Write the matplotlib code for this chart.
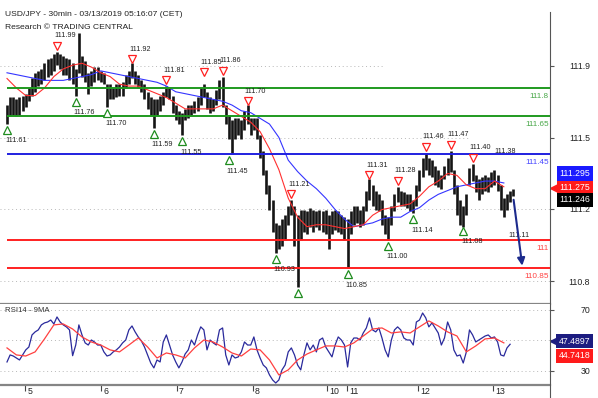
import numpy as np
import matplotlib.pyplot as plt
import matplotlib.transforms as mtransforms
from matplotlib.lines import Line2D

plt.rcParams['font.family'] = ['Liberation Sans', 'DejaVu Sans']

# USD/JPY, one sample per hour
bar_high = [
    111.71, 111.75, 111.75, 111.74, 111.75, 111.76, 111.77, 111.80, 111.85, 111.88,
    111.89, 111.90, 111.93, 111.95, 111.96, 111.98, 111.99, 111.98, 111.97, 111.96,
    111.95, 111.93, 111.90, 112.09, 111.97, 111.94, 111.88, 111.89, 111.91, 111.91,
    111.89, 111.88, 111.82, 111.82, 111.80, 111.82, 111.82, 111.83, 111.87, 111.89,
    111.93, 111.89, 111.87, 111.84, 111.82, 111.78, 111.75, 111.74, 111.74, 111.76,
    111.78, 111.81, 111.80, 111.76, 111.71, 111.68, 111.67, 111.69, 111.71, 111.71,
    111.73, 111.75, 111.80, 111.82, 111.78, 111.75, 111.74, 111.79, 111.84, 111.86,
    111.71, 111.66, 111.63, 111.64, 111.64, 111.63, 111.68, 111.71, 111.64, 111.64,
    111.64, 111.55, 111.47, 111.37, 111.29, 111.21, 111.09, 111.08, 111.11, 111.13,
    111.18, 111.21, 111.18, 111.13, 111.16, 111.16, 111.15, 111.17, 111.16, 111.15,
    111.16, 111.15, 111.16, 111.13, 111.15, 111.16, 111.15, 111.13, 111.12, 111.11,
    111.15, 111.18, 111.18, 111.16, 111.18, 111.26, 111.32, 111.29, 111.26, 111.24,
    111.21, 111.13, 111.12, 111.18, 111.24, 111.28, 111.26, 111.25, 111.24, 111.24,
    111.21, 111.29, 111.37, 111.43, 111.46, 111.43, 111.42, 111.39, 111.37, 111.34,
    111.39, 111.43, 111.47, 111.37, 111.29, 111.21, 111.18, 111.24, 111.38, 111.40,
    111.34, 111.32, 111.33, 111.34, 111.33, 111.36, 111.37, 111.34, 111.29, 111.22,
    111.24, 111.26, 111.27]
bar_low = [
    111.61, 111.65, 111.66, 111.65, 111.66, 111.68, 111.70, 111.73, 111.76, 111.78,
    111.81, 111.82, 111.84, 111.86, 111.87, 111.89, 111.92, 111.90, 111.87, 111.87,
    111.84, 111.82, 111.76, 111.88, 111.86, 111.83, 111.77, 111.81, 111.83, 111.84,
    111.83, 111.82, 111.70, 111.74, 111.74, 111.75, 111.76, 111.76, 111.80, 111.82,
    111.85, 111.82, 111.80, 111.78, 111.74, 111.69, 111.66, 111.59, 111.66, 111.68,
    111.71, 111.75, 111.74, 111.67, 111.63, 111.61, 111.55, 111.63, 111.64, 111.66,
    111.67, 111.68, 111.71, 111.75, 111.69, 111.67, 111.68, 111.71, 111.74, 111.70,
    111.61, 111.53, 111.45, 111.53, 111.55, 111.53, 111.58, 111.61, 111.55, 111.58,
    111.53, 111.43, 111.34, 111.24, 111.16, 111.04, 110.93, 110.95, 110.97, 111.00,
    111.08, 111.13, 110.97, 110.75, 111.00, 111.04, 111.03, 111.07, 111.04, 111.07,
    111.05, 111.04, 111.03, 110.95, 111.03, 111.05, 111.04, 111.03, 111.00, 110.85,
    111.03, 111.08, 111.09, 111.07, 111.08, 111.15, 111.21, 111.18, 111.16, 111.15,
    111.08, 111.03, 111.00, 111.08, 111.15, 111.20, 111.18, 111.18, 111.17, 111.15,
    111.14, 111.18, 111.26, 111.33, 111.37, 111.34, 111.33, 111.29, 111.28, 111.27,
    111.32, 111.34, 111.36, 111.24, 111.13, 111.08, 111.07, 111.13, 111.29, 111.31,
    111.25, 111.21, 111.24, 111.26, 111.25, 111.28, 111.29, 111.26, 111.16, 111.12,
    111.16, 111.20, 111.23]

# moving averages, one value every 3 hours
ma_fast = [
    111.85, 111.80, 111.76, 111.76, 111.80, 111.86, 111.90, 111.92, 111.93, 111.91,
    111.88, 111.86, 111.82, 111.81, 111.81, 111.79, 111.77, 111.75, 111.72, 111.69,
    111.69, 111.69, 111.69, 111.71, 111.68, 111.65, 111.62, 111.57, 111.48, 111.37,
    111.22, 111.12, 111.07, 111.08, 111.08, 111.07, 111.06, 111.07, 111.08, 111.13,
    111.16, 111.17, 111.18, 111.19, 111.23, 111.28, 111.31, 111.35, 111.34, 111.29,
    111.27, 111.27, 111.31, 111.28]
ma_slow = [
    111.88, 111.87, 111.86, 111.85, 111.84, 111.84, 111.84, 111.85, 111.86, 111.87,
    111.89, 111.88, 111.87, 111.86, 111.85, 111.84, 111.83, 111.81, 111.78, 111.77,
    111.76, 111.75, 111.74, 111.73, 111.71, 111.68, 111.67, 111.64, 111.61, 111.54,
    111.42, 111.36, 111.31, 111.27, 111.22, 111.16, 111.11, 111.07, 111.08, 111.09,
    111.11, 111.12, 111.12, 111.15, 111.17, 111.21, 111.24, 111.26, 111.28, 111.29,
    111.30, 111.31, 111.31, 111.30]

# RSI14 (hourly) and its 9MA (every 3 hours)
rsi = [
    35.9, 40.5, 39.8, 38.5, 37.2, 40.5, 43.8, 45.7, 53.6, 55.6,
    56.9, 60.2, 61.5, 62.1, 63.4, 60.8, 65.4, 62.1, 60.2, 58.9,
    56.9, 40.0, 47.0, 60.2, 53.6, 48.4, 47.0, 50.3, 49.0, 47.0,
    47.0, 42.5, 39.8, 40.5, 42.5, 43.8, 45.7, 48.4, 50.3, 56.9,
    59.5, 55.6, 52.3, 49.7, 45.7, 40.5, 35.2, 32.0, 37.2, 35.9,
    49.0, 53.6, 47.0, 40.5, 35.9, 32.0, 35.9, 41.1, 43.8, 50.3,
    47.0, 53.6, 58.9, 56.9, 43.8, 50.3, 48.4, 47.0, 56.9, 58.2,
    40.5, 33.9, 40.5, 38.5, 39.2, 42.5, 49.0, 47.0, 47.0, 52.3,
    43.8, 38.5, 33.9, 32.0, 27.4, 24.1, 22.1, 24.1, 30.7, 33.9,
    42.5, 45.1, 40.5, 33.9, 30.7, 40.5, 48.4, 43.8, 47.0, 42.5,
    50.3, 51.6, 45.7, 42.5, 39.2, 47.0, 52.3, 50.3, 47.0, 32.6,
    48.4, 51.6, 51.6, 50.3, 54.9, 58.2, 64.8, 56.9, 55.6, 58.2,
    51.6, 43.8, 39.2, 50.3, 56.9, 58.9, 56.9, 51.6, 50.3, 50.3,
    47.0, 62.1, 63.4, 68.0, 64.8, 58.9, 61.5, 58.2, 54.9, 47.0,
    51.6, 62.1, 56.9, 43.8, 39.8, 40.5, 35.2, 42.5, 56.9, 53.6,
    49.0, 50.3, 51.6, 52.9, 53.6, 51.6, 52.3, 49.0, 40.5, 39.8,
    45.1, 47.5]
rsi_ma = [
    45.1, 40.5, 39.8, 42.5, 51.0, 60.2, 60.8, 57.5, 52.3, 49.0,
    47.0, 43.8, 42.5, 47.0, 51.6, 45.7, 38.5, 41.8, 40.5, 38.5,
    45.1, 50.3, 49.0, 45.7, 41.8, 39.8, 44.4, 43.8, 37.2, 27.4,
    30.7, 37.2, 41.1, 43.8, 46.4, 46.4, 45.7, 48.4, 52.9, 57.5,
    58.2, 54.9, 55.6, 54.9, 58.9, 62.8, 59.5, 55.6, 52.9, 42.5,
    46.4, 51.0, 51.6, 48.4]

# pivots
high_idx = [16, 40, 51, 63, 69, 77, 91, 116, 125, 134, 142, 149]
high_val = [111.99, 111.92, 111.81, 111.85, 111.86, 111.70, 111.21, 111.31, 111.28, 111.46, 111.47, 111.40]
low_idx = [0, 22, 32, 47, 56, 71, 86, 93, 109, 122, 130, 146]
low_val = [111.61, 111.76, 111.70, 111.59, 111.55, 111.45, 110.93, 110.75, 110.85, 111.00, 111.14, 111.08]
low_txt = ['111.61', '111.76', '111.70', '111.59', '111.55', '111.45', '110.93', '', '110.85', '111.00', '111.14', '111.08']
extra_high = (157, 111.38)
extra_low = (161, 111.11)

levels = [111.8, 111.65, 111.45, 111.0, 110.85]
level_txt = ['111.8', '111.65', '111.45', '111', '110.85']
level_col = ['#1f9a1f', '#1f9a1f', '#2020e0', '#ff2020', '#ff2020']
level_txtcol = ['#4aa84a', '#4aa84a', '#4848ff', '#ff4444', '#ff4444']

price_ticks = [111.916, 111.537, 111.163, 110.784]
price_tick_labels = ['111.9', '111.5', '111.2', '110.8']
rsi_ticks = [70, 50, 30]
rsi_tick_labels = ['70', '', '30']  # the 50 label sits under the RSI value box
day_ticks = [5.9, 30.2, 54.4, 78.7, 102.4, 108.8, 131.5, 155.5]
day_labels = ['5', '6', '7', '8', '10', '11', '12', '13']

last_close = 111.246
last_fast = 111.275
last_slow = 111.295
last_rsi = 47.4897
last_rsi_ma = 44.7418
target = 110.85

hours = np.arange(len(bar_high))
ma_hours = np.arange(len(ma_fast)) * 3
rsi_hours = np.arange(len(rsi))
rsi_ma_hours = np.arange(len(rsi_ma)) * 3

fig = plt.figure(figsize=(5.98, 3.98), dpi=100)
ax = fig.add_axes([0, 0.2362, 0.9197, 0.7337])
ax2 = fig.add_axes([0, 0.0327, 0.9197, 0.2035])
x_lo, x_hi = -2.24, 173.76

def off(a, dx, dy):
    return mtransforms.offset_copy(a.transData, fig=fig, x=dx, y=dy, units='dots')

# ---- price panel ----
ax.set_xlim(x_lo, x_hi)
ax.set_ylim(110.663, 112.2)
for t, xm in zip(price_ticks, [0.70, 0.855, 1, 1]):
    ax.axhline(t, xmax=xm, color='#b8b8b8', ls=(0, (1, 3)), lw=0.7, zorder=1)

ax.vlines(hours, bar_low, bar_high, color='#151515', lw=1.9, zorder=3)
ax.plot(ma_hours, ma_slow, color='#3535ff', lw=0.8, zorder=4)
ax.plot(ma_hours, ma_fast, color='#ff3030', lw=0.8, zorder=4)

ax.hlines(levels, 0, x_hi, colors=level_col, lw=1.4, zorder=5)
ybt = mtransforms.blended_transform_factory(ax.transAxes, ax.transData)
for lv, t, c in zip(levels, level_txt, level_txtcol):
    ax.annotate(t, xy=(1, lv), xycoords=ybt, xytext=(-1, -6), textcoords='offset points',
                ha='right', va='center', fontsize=5.9, color=c)

ax.plot(high_idx, high_val, 'v', ms=5.5, mfc='white', mec='#ff2020', mew=0.9,
        transform=off(ax, 0, 6), zorder=6, clip_on=False)
for i, v in zip(high_idx + [extra_high[0]], high_val + [extra_high[1]]):
    ax.annotate(f'{v:.2f}', xy=(i, v), xytext=(-2.2, 11.5), textcoords='offset points',
                ha='left', va='center', fontsize=5.2, color='#222222', zorder=7)
ax.plot(low_idx, low_val, '^', ms=5.5, mfc='white', mec='#1e8c1e', mew=0.9,
        transform=off(ax, 0, -6), zorder=6, clip_on=False)
for i, v, t in zip(low_idx + [extra_low[0]], low_val + [extra_low[1]], low_txt + ['111.11']):
    if t:
        ax.annotate(t, xy=(i, v), xytext=(-1.5, -12), textcoords='offset points',
                    ha='left', va='center', fontsize=5.2, color='#222222', zorder=7)

ax.annotate('', xy=(hours[-1] + 3, target), xytext=(hours[-1], last_close - 0.02),
            arrowprops=dict(arrowstyle='-|>', color='#1c2a8c', lw=1.5, mutation_scale=11),
            zorder=8)

for sp in ['top', 'left', 'right']:
    ax.spines[sp].set_visible(False)
ax.spines['bottom'].set_color('#858585')
ax.spines['bottom'].set_linewidth(1.6)
ax.set_xticks([])
ax.yaxis.tick_right()
ax.set_yticks(price_ticks)
ax.set_yticklabels(price_tick_labels)
ax.tick_params(axis='y', direction='out', length=3, width=0.8, colors='#555555',
               labelcolor='#222222', labelsize=6.3, pad=25.8)
for lab in ax.get_yticklabels():
    lab.set_ha('right')

boxes = [(last_slow, 7.5, '#1a1aff', False), (last_fast, 0, '#ff1a1a', True),
         (last_close, -4.7, '#000000', False)]
for v, dy, c, arrow in boxes:
    ax.annotate(f'{v:.3f}', xy=(1, v), xycoords=ybt, xytext=(6.8, dy),
                textcoords='offset points', ha='left', va='center', fontsize=6.3,
                color='white', bbox=dict(boxstyle='square,pad=0.3', fc=c, ec='none'),
                annotation_clip=False, zorder=9)
    if arrow:
        ax.plot([1.0085], [v], marker='<', ms=6.5, color=c, transform=ybt, clip_on=False)

fig.text(0.0084, 0.964, 'USD/JPY - 30min - 03/13/2019 05:16:07 (CET)', fontsize=6.1,
         color='#222222', va='center')
fig.text(0.0084, 0.931, 'Research \u00a9 TRADING CENTRAL', fontsize=6.1,
         color='#222222', va='center')

# ---- RSI panel ----
ax2.set_xlim(x_lo, x_hi)
ax2.set_ylim(20.8, 73.9)
for t in rsi_ticks:
    ax2.axhline(t, color='#b8b8b8', ls=(0, (1, 3)), lw=0.7, zorder=1)
ax2.plot(rsi_hours, rsi, color='#2a2a9c', lw=0.9, zorder=3)
ax2.plot(rsi_ma_hours, rsi_ma, color='#ff4040', lw=0.9, zorder=3)
for sp in ['top', 'left', 'right']:
    ax2.spines[sp].set_visible(False)
ax2.spines['bottom'].set_color('#858585')
ax2.spines['bottom'].set_linewidth(1.6)
ax2.yaxis.tick_right()
ax2.set_yticks(rsi_ticks)
ax2.set_yticklabels(rsi_tick_labels)
ax2.tick_params(axis='y', direction='out', length=3, width=0.8, colors='#555555',
                labelcolor='#222222', labelsize=6.3, pad=25.8)
for lab in ax2.get_yticklabels():
    lab.set_ha('right')
ax2.set_xticks(day_ticks)
ax2.set_xticklabels([''] * len(day_ticks))
ax2.tick_params(axis='x', direction='out', length=4.5, width=0.8, colors='#444444')
xbt = mtransforms.blended_transform_factory(ax2.transData, ax2.transAxes)
for d, lab in zip(day_ticks, day_labels):
    ax2.text(d, 0, lab, transform=mtransforms.offset_copy(xbt, fig=fig, x=2, y=-2, units='dots'),
             ha='left', va='top', fontsize=6.3, color='#222222')
ax2.text(0.0084, 0.92, 'RSI14 - 9MA', transform=ax2.transAxes, fontsize=5.6,
         color='#333333', va='center')

ybt2 = mtransforms.blended_transform_factory(ax2.transAxes, ax2.transData)
for v, dy, c, arrow in [(last_rsi, 2.2, '#1c1c80', True), (last_rsi_ma, -5.4, '#ff1a1a', False)]:
    ax2.annotate(f'{v:.4f}', xy=(1, v), xycoords=ybt2, xytext=(6.5, dy),
                 textcoords='offset points', ha='left', va='center', fontsize=6.3,
                 color='white', bbox=dict(boxstyle='square,pad=0.3', fc=c, ec='none'),
                 annotation_clip=False, zorder=9)
    if arrow:
        ax2.plot([1.0085], [v], marker='<', ms=6.5, color=c, clip_on=False,
                 transform=mtransforms.offset_copy(ybt2, fig=fig, x=0, y=dy / 0.72, units='dots'))

fig.add_artist(Line2D([0.9197, 0.9197], [0, 0.97], color='#555555', lw=0.8))

fig.savefig('out.png', dpi=100)
